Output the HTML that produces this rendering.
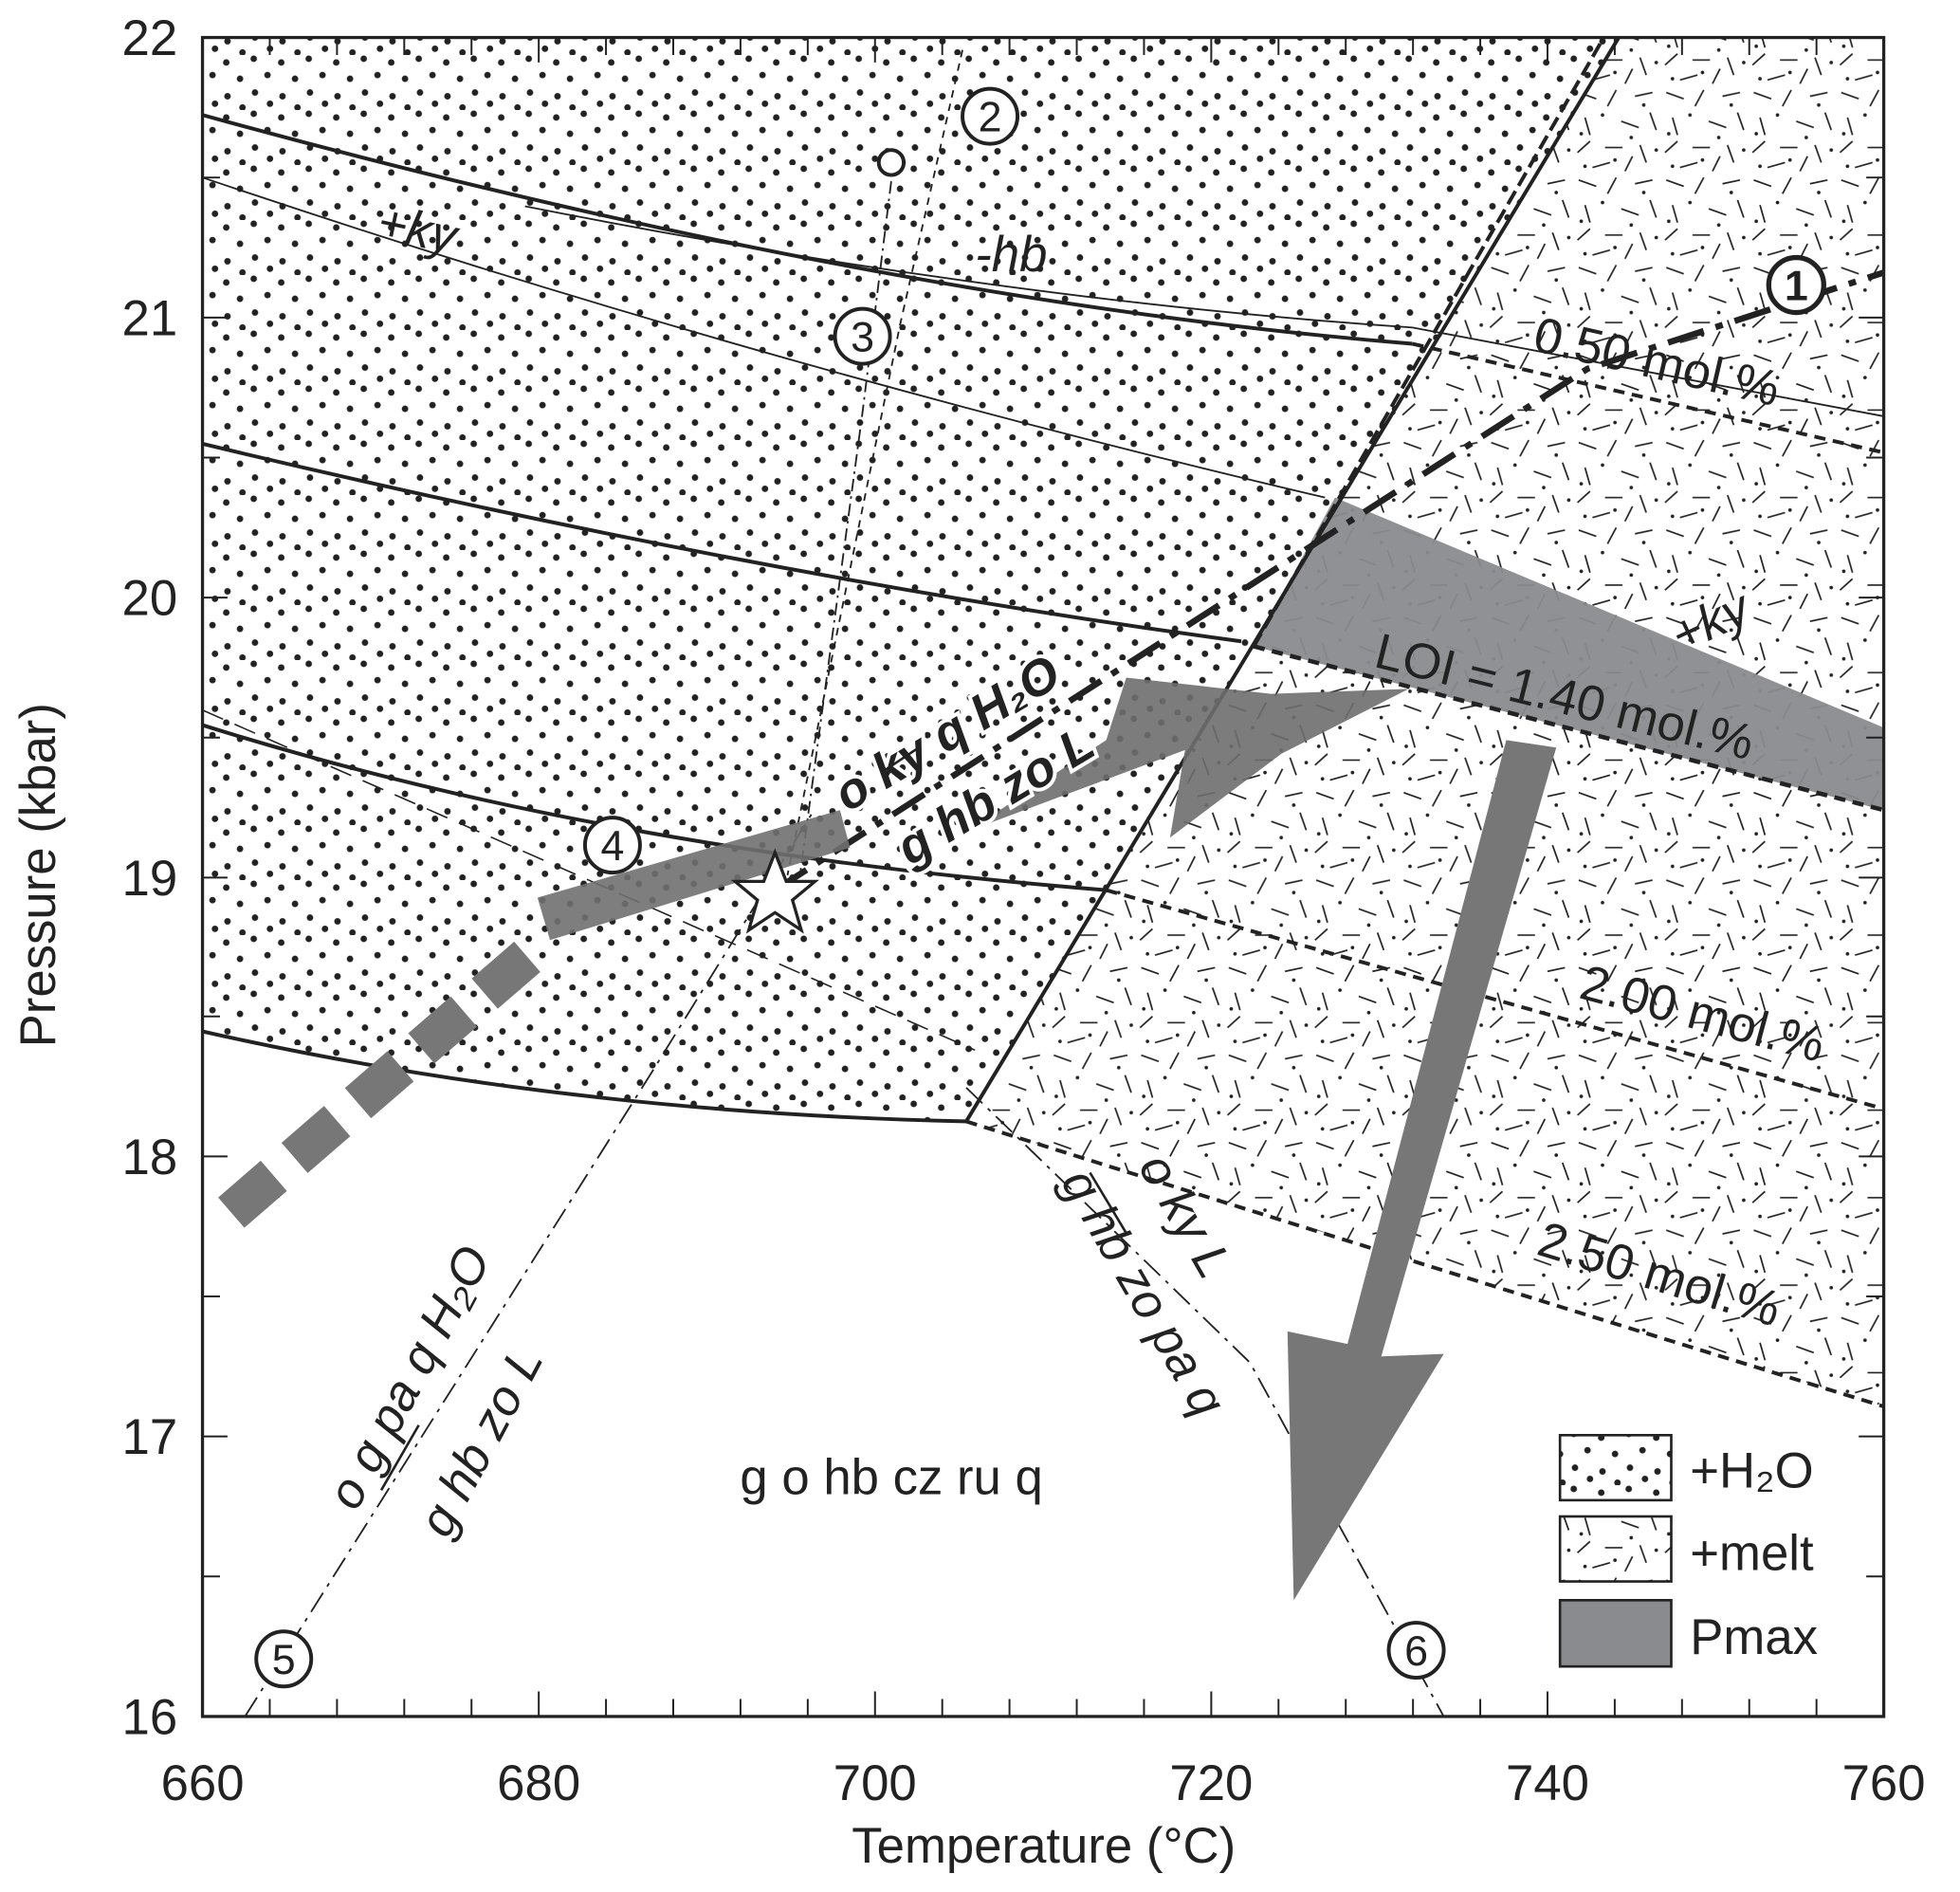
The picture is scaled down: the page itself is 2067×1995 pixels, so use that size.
<!DOCTYPE html>
<html><head><meta charset="utf-8"><style>
html,body{margin:0;padding:0;background:#fff}
svg{display:block}
text{font-family:"Liberation Sans",Arial,sans-serif;fill:#222}
</style></head><body>
<svg width="2067" height="1995" viewBox="0 0 1568 1513.4" preserveAspectRatio="none" xmlns="http://www.w3.org/2000/svg">
<defs>
<pattern id="dots" width="44" height="44" patternUnits="userSpaceOnUse">
<circle cx="5" cy="6" r="2.6" fill="#222"/><circle cx="27" cy="3" r="2.6" fill="#222"/>
<circle cx="16" cy="19" r="2.6" fill="#222"/><circle cx="38" cy="16" r="2.6" fill="#222"/>
<circle cx="6" cy="33" r="2.6" fill="#222"/><circle cx="28" cy="30" r="2.6" fill="#222"/>
<circle cx="18" cy="42" r="2.6" fill="#222"/><circle cx="40" cy="39" r="2.6" fill="#222"/>
</pattern>
<pattern id="melt" width="70" height="70" patternUnits="userSpaceOnUse">
<g stroke="#222" stroke-width="1.3" fill="none">
<line x1="3" y1="4" x2="17" y2="9"/><line x1="33" y1="2" x2="26" y2="15"/><line x1="48" y1="7" x2="62" y2="4"/>
<line x1="8" y1="24" x2="12" y2="38"/><line x1="37" y1="27" x2="51" y2="32"/><line x1="60" y1="20" x2="65" y2="34"/>
<line x1="2" y1="52" x2="12" y2="43"/><line x1="24" y1="48" x2="38" y2="48"/><line x1="52" y1="46" x2="57" y2="60"/>
<line x1="14" y1="64" x2="28" y2="60"/><line x1="40" y1="67" x2="46" y2="55"/>
</g>
<g fill="#222"><circle cx="22" cy="22" r="1.4"/><circle cx="55" cy="14" r="1.4"/><circle cx="5" cy="37" r="1.4"/><circle cx="45" cy="40" r="1.4"/><circle cx="65" cy="50" r="1.4"/><circle cx="32" cy="58" r="1.4"/><circle cx="8" cy="63" r="1.4"/></g>
</pattern>
</defs>

<path d="M162,30 L1295,30 L773,897 Q450,890 162,825 Z" fill="url(#dots)"/>
<path d="M1295,30 L1507,30 L1507,1125 L773,897 Z" fill="url(#melt)"/>
<path d="M1003,517 L1068,398 L1507,582 L1507,648 Z" fill="#8a8b8e" fill-opacity="0.95"/>

<g fill="none" stroke="#222">
<path d="M162,92 Q700,240 1130,275" stroke-width="3"/>
<path d="M420,165 Q800,240 1130,262 L1507,333" stroke-width="1.4"/>
<path d="M162,142 Q600,290 1060,398" stroke-width="1.4"/>
<path d="M162,355 Q600,460 993,513" stroke-width="3"/>
<path d="M162,580 Q480,680 885,712" stroke-width="3"/>
<path d="M162,825 Q450,890 773,897" stroke-width="3"/>
<line x1="773" y1="897" x2="1295" y2="30" stroke-width="3"/>
<line x1="1003" y1="517" x2="1283" y2="30" stroke-width="3" stroke-dasharray="12,5"/>
<path d="M1130,275 L1507,362" stroke-width="3" stroke-dasharray="9,6"/>
<path d="M1003,517 L1507,648" stroke-width="3.5" stroke-dasharray="9,6"/>
<path d="M885,712 L1507,887" stroke-width="3" stroke-dasharray="9,6"/>
<path d="M773,897 Q1100,1000 1507,1125" stroke-width="3" stroke-dasharray="9,6"/>
<path d="M196,1373 L520,860 L650,650" stroke-width="1.4" stroke-dasharray="18,6,3,6"/>
<path d="M770,40 L720,260 L630,700" stroke-width="1.4" stroke-dasharray="6,5"/>
<path d="M713,145 L690,330 L640,700" stroke-width="1.4" stroke-dasharray="10,4,2,4"/>
<path d="M773,870 L1000,1090 L1155,1373" stroke-width="1.4" stroke-dasharray="18,6,3,6"/>
<path d="M162,568 L780,840" stroke-width="1.2" stroke-dasharray="18,10"/>
<path d="M620,712 L1270,295 L1507,218" stroke-width="5" stroke-dasharray="30,10,6,10"/>
</g>

<path d="M430,718 L672,648 L680,678 L440,752 Z" fill="#707070" fill-opacity="0.9"/>
<g stroke="#777" stroke-width="32" stroke-dasharray="45,22" fill="none">
<line x1="185" y1="970" x2="428" y2="760"/>
</g>
<path d="M774,665 L885,592 L901,542 L1017,555 L1127,551 L1025,603 L936,670 L948,600 Z" fill="#6e6e6e" fill-opacity="0.9"/>
<path d="M1205,592 L1245,598 L1105,1085 L1155,1083 L1035,1280 L1030,1065 L1078,1075 Z" fill="#777"/>

<path d="M620,682 L629,705 L652,705 L634,720 L641,744 L620,730 L599,744 L606,720 L588,705 L611,705 Z" fill="#fff" stroke="#222" stroke-width="2.5"/>

<g fill="#fff" stroke="#222" stroke-width="3">
<circle cx="1437" cy="228" r="22" stroke-width="4"/><circle cx="792" cy="93" r="22"/><circle cx="690" cy="269" r="22"/>
<circle cx="490" cy="676" r="22"/><circle cx="227" cy="1327" r="22"/><circle cx="1133" cy="1320" r="22"/>
<circle cx="713" cy="130" r="10"/>
</g>
<g font-size="34" text-anchor="middle">
<text x="1437" y="240" font-weight="bold">1</text><text x="792" y="105">2</text><text x="690" y="281">3</text>
<text x="490" y="688">4</text><text x="227" y="1339">5</text><text x="1133" y="1332">6</text>
</g>

<g font-size="40">
<text x="300" y="190" font-style="italic" transform="rotate(12 300 190)">+ky</text>
<text x="780" y="217" font-style="italic">-hb</text>
<text x="1225" y="280" transform="rotate(13 1225 280)">0.50 mol.%</text>
<text x="1098" y="533" transform="rotate(14 1098 533)">LOI = 1.40 mol.%</text>
<text x="1345" y="523" font-style="italic" transform="rotate(-25 1345 523)">+ky</text>
<text x="1262" y="798" transform="rotate(15 1262 798)">2.00 mol.%</text>
<text x="1228" y="1003" transform="rotate(17 1228 1003)">2.50 mol.%</text>
<text x="592" y="1195">g o hb cz ru q</text>
</g>
<g font-size="40" font-weight="bold" font-style="italic" stroke="#fff" stroke-width="6" paint-order="stroke">
<text x="678" y="650" transform="rotate(-31 678 650)">o ky q H₂O</text>
<text x="728" y="693" transform="rotate(-31 728 693)">g hb zo L</text>
</g>
<g font-size="40" font-style="italic">
<text x="285" y="1210" transform="rotate(-62 285 1210)">o g pa q H₂O</text>
<text x="358" y="1232" transform="rotate(-62 358 1232)">g hb zo L</text>
<text x="910" y="933" transform="rotate(60 910 933)">o ky L</text>
<text x="848" y="945" transform="rotate(60 848 945)">g hb zo pa q</text>
</g>
<g stroke="#222" stroke-width="2">
<line x1="705" y1="618" x2="735" y2="598"/><line x1="305" y1="1192" x2="335" y2="1140"/><line x1="872" y1="938" x2="902" y2="988"/>
</g>

<rect x="1248" y="1148" width="89" height="52" fill="url(#dots)" stroke="#222" stroke-width="2"/>
<rect x="1248" y="1213" width="89" height="52" fill="url(#melt)" stroke="#222" stroke-width="2"/>
<rect x="1248" y="1280" width="89" height="53" fill="#8a8b8e" stroke="#222" stroke-width="2"/>
<g font-size="40"><text x="1352" y="1190">+H₂O</text><text x="1352" y="1256">+melt</text><text x="1352" y="1323">Pmax</text></g>

<rect x="162" y="30" width="1345" height="1343" fill="none" stroke="#222" stroke-width="2.5"/>
<g stroke="#222" stroke-width="1.5">
<path d="M215.8,1373v-14M269.6,1373v-14M323.4,1373v-14M377.2,1373v-14M431,1373v-20M484.8,1373v-14M538.6,1373v-14M592.4,1373v-14M646.2,1373v-14M700,1373v-20M753.8,1373v-14M807.6,1373v-14M861.4,1373v-14M915.2,1373v-14M969,1373v-20M1022.8,1373v-14M1076.6,1373v-14M1130.4,1373v-14M1184.2,1373v-14M1238,1373v-20M1291.8,1373v-14M1345.6,1373v-14M1399.4,1373v-14M1453.2,1373v-14"/>
<path d="M215.8,30v14M269.6,30v14M323.4,30v14M377.2,30v14M431,30v20M484.8,30v14M538.6,30v14M592.4,30v14M646.2,30v14M700,30v20M753.8,30v14M807.6,30v14M861.4,30v14M915.2,30v14M969,30v20M1022.8,30v14M1076.6,30v14M1130.4,30v14M1184.2,30v14M1238,30v20M1291.8,30v14M1345.6,30v14M1399.4,30v14M1453.2,30v14"/>
<path d="M162,1261h14M162,1149h20M162,1037h14M162,925h20M162,813h14M162,702h20M162,590h14M162,478h20M162,366h14M162,254h20M162,142h14"/>
<path d="M1507,1261h-14M1507,1149h-20M1507,1037h-14M1507,925h-20M1507,813h-14M1507,702h-20M1507,590h-14M1507,478h-20M1507,366h-14M1507,254h-20M1507,142h-14"/>
</g>
<g font-size="40" text-anchor="end">
<text x="142" y="44">22</text><text x="142" y="268">21</text><text x="142" y="492">20</text><text x="142" y="716">19</text>
<text x="142" y="939">18</text><text x="142" y="1163">17</text><text x="142" y="1387">16</text>
</g>
<g font-size="40" text-anchor="middle">
<text x="162" y="1440">660</text><text x="431" y="1440">680</text><text x="700" y="1440">700</text><text x="969" y="1440">720</text>
<text x="1238" y="1440">740</text><text x="1507" y="1440">760</text>
<text x="835" y="1490">Temperature (°C)</text>
<text x="44" y="700" transform="rotate(-90 44 700)">Pressure (kbar)</text>
</g>
</svg>
</body></html>
